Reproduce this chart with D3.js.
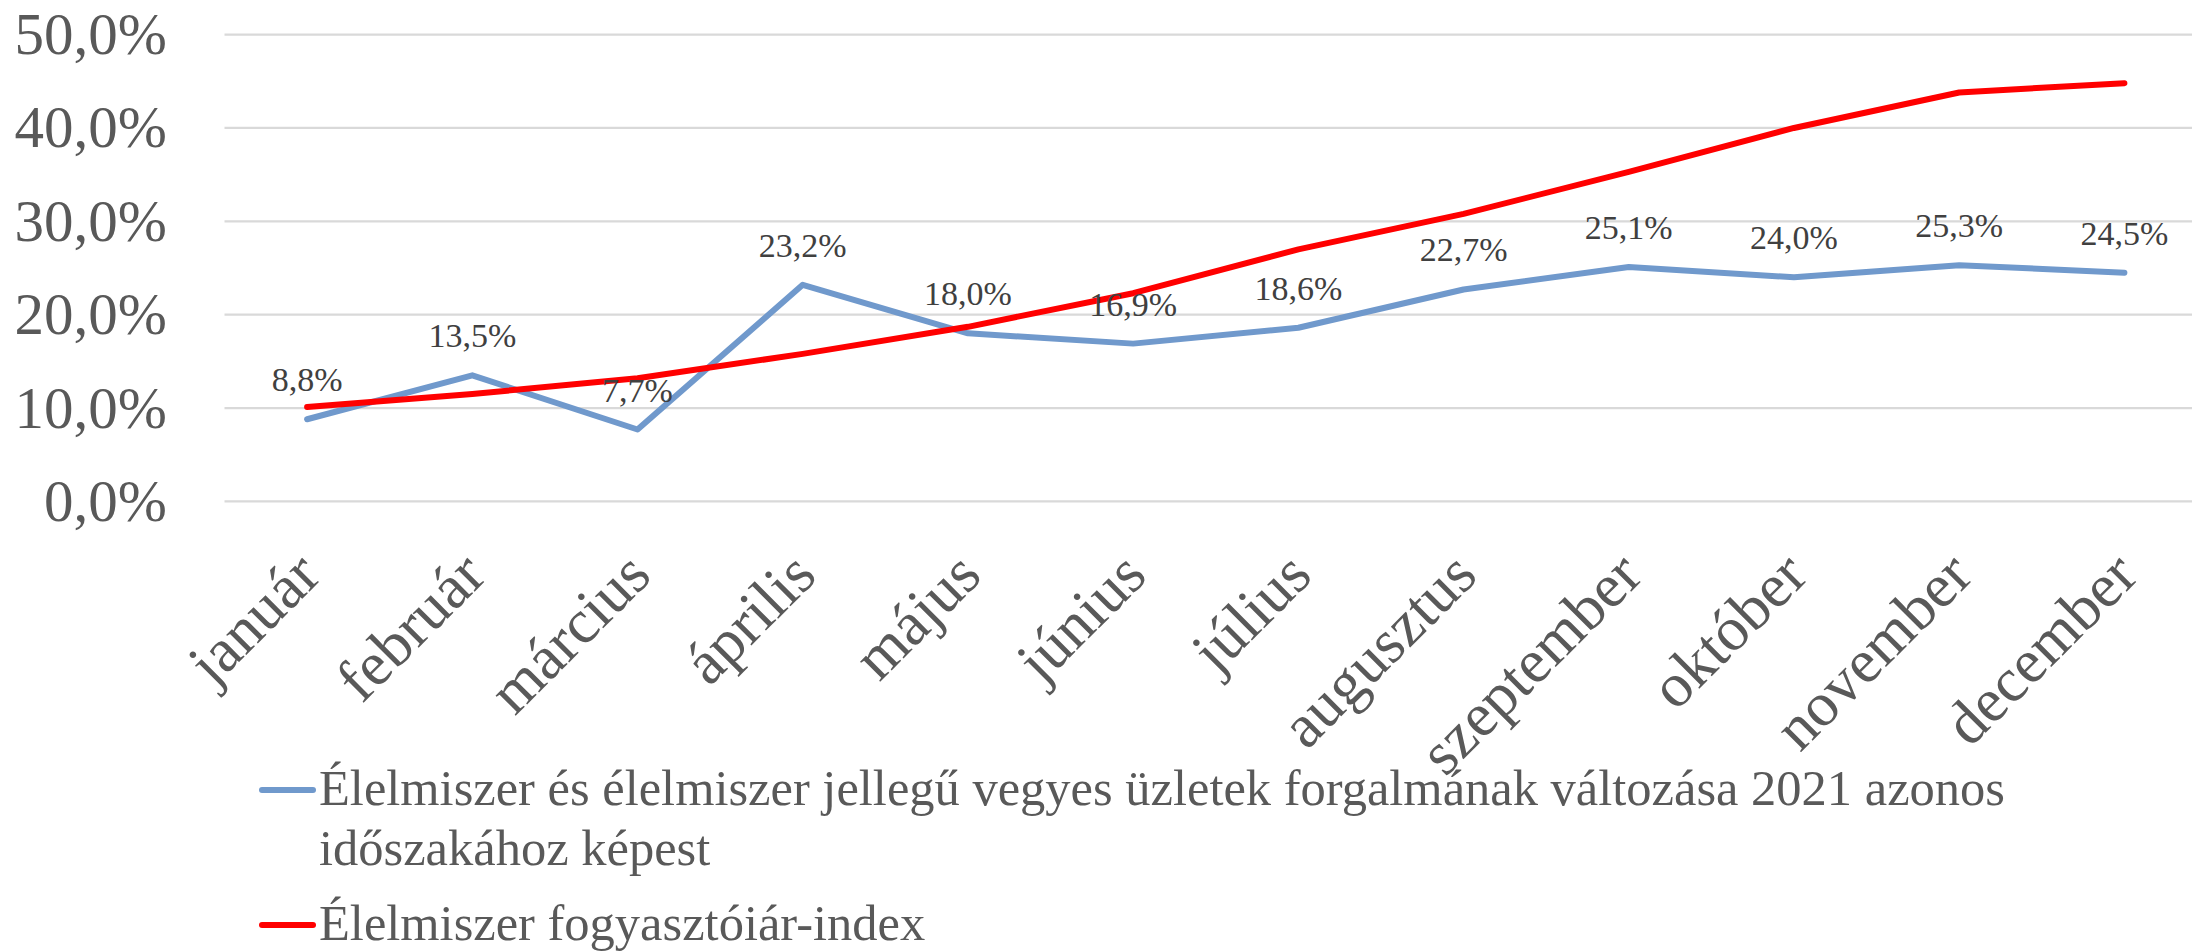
<!DOCTYPE html>
<html>
<head>
<meta charset="utf-8">
<script src="https://cdn.jsdelivr.net/npm/d3@7"></script>
<style>
  body { margin: 0; overflow: hidden; background: #fff; }
  svg { display: block; }
  text { font-family: "Liberation Serif", "Times New Roman", serif; }
</style>
</head>
<body>
<div id="chart"></div>
<script>
// months on the x axis
const months = ['január', 'február', 'március', 'április', 'május', 'június',
  'július', 'augusztus', 'szeptember', 'október', 'november', 'december'];

// forgalom változása (%), blue line
const forgalom = [8.8, 13.5, 7.7, 23.2, 18.0, 16.9, 18.6, 22.7, 25.1, 24.0, 25.3, 24.5];
// élelmiszer fogyasztóiár-index (%), red line
const arIndex = [10.1, 11.5, 13.2, 15.8, 18.7, 22.3, 27.0, 30.8, 35.3, 40.0, 43.8, 44.8];

const yTicks = [0, 10, 20, 30, 40, 50];

const legendBlue = ['Élelmiszer és élelmiszer jellegű vegyes üzletek forgalmának változása 2021 azonos',
  'időszakához képest'];
const legendRed = ['Élelmiszer fogyasztóiár-index'];

let w = 2192;
let h = 951;

let svg = d3.select('#chart')
  .append('svg')
  .attr('width', w)
  .attr('height', h);

let x = d3.scalePoint()
  .domain(months)
  .range([224.5, 2207])
  .padding(0.5);

let y = d3.scaleLinear()
  .domain([0, 50])
  .range([501.4, 34.6]);

let fmt = function(v) {
  return v.toFixed(1).replace('.', ',') + '%';
};

// gridlines
svg.append('g')
  .selectAll('line')
  .data(yTicks)
  .enter()
  .append('line')
  .attr('x1', 224.5)
  .attr('x2', 2207)
  .attr('y1', d => y(d))
  .attr('y2', d => y(d))
  .attr('stroke', '#d9d9d9')
  .attr('stroke-width', 2.2);

// y tick labels
svg.append('g')
  .selectAll('text')
  .data(yTicks)
  .enter()
  .append('text')
  .attr('x', 167)
  .attr('y', d => y(d))
  .attr('dy', '0.33em')
  .attr('text-anchor', 'end')
  .attr('font-size', 59)
  .attr('fill', '#595959')
  .text(fmt);

// x labels, rotated
svg.append('g')
  .selectAll('text')
  .data(months)
  .enter()
  .append('text')
  .attr('transform', d => 'translate(' + (x(d) + 16) + ',578) rotate(-45)')
  .attr('text-anchor', 'end')
  .attr('font-size', 62)
  .attr('fill', '#595959')
  .text(d => d);

let line = d3.line()
  .x((d, i) => x(months[i]))
  .y(d => y(d));

svg.append('path')
  .datum(forgalom)
  .attr('d', line)
  .attr('fill', 'none')
  .attr('stroke', '#7099cc')
  .attr('stroke-width', 6)
  .attr('stroke-linejoin', 'round')
  .attr('stroke-linecap', 'round');

svg.append('path')
  .datum(arIndex)
  .attr('d', line)
  .attr('fill', 'none')
  .attr('stroke', '#ff0000')
  .attr('stroke-width', 6)
  .attr('stroke-linejoin', 'round')
  .attr('stroke-linecap', 'round');

// data labels above the blue line
svg.append('g')
  .selectAll('text')
  .data(forgalom)
  .enter()
  .append('text')
  .attr('x', (d, i) => x(months[i]))
  .attr('y', d => y(d) - 28)
  .attr('text-anchor', 'middle')
  .attr('font-size', 34)
  .attr('fill', '#404040')
  .text(fmt);

// legend
let legend = svg.append('g');
let items = [
  { color: '#7099cc', lines: legendBlue, y: 805 },
  { color: '#ff0000', lines: legendRed, y: 940 }
];
items.forEach(function(it) {
  legend.append('line')
    .attr('x1', 262)
    .attr('x2', 313)
    .attr('y1', it.y - 15)
    .attr('y2', it.y - 15)
    .attr('stroke', it.color)
    .attr('stroke-width', 6)
    .attr('stroke-linecap', 'round');
  legend.append('g')
    .selectAll('text')
    .data(it.lines)
    .enter()
    .append('text')
    .attr('x', 319)
    .attr('y', (d, i) => it.y + i * 60)
    .attr('font-size', 50.5)
    .attr('fill', '#595959')
    .text(d => d);
});
</script>
</body>
</html>
